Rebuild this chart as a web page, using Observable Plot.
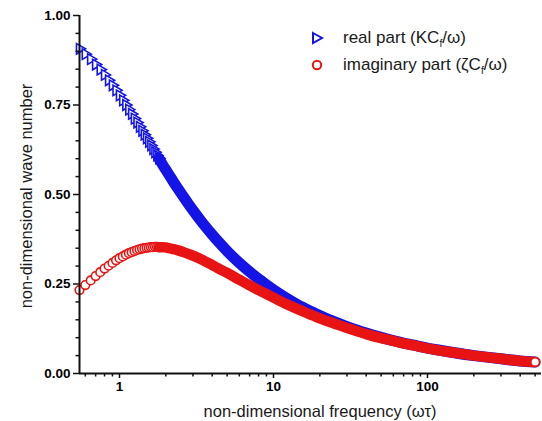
<!DOCTYPE html>
<html><head><meta charset="utf-8">
<script src="https://cdn.jsdelivr.net/npm/d3@7"></script>
<script src="https://cdn.jsdelivr.net/npm/@observablehq/plot@0.6"></script>
<style>
body{margin:0;background:#fff;font-family:"Liberation Sans",Arial,sans-serif;}
#wrap{position:relative;width:542px;height:421px;overflow:hidden;background:#fff;}
#wrap > svg{position:absolute;left:0;top:0;}
.ytitle{position:absolute;left:26px;top:196px;transform:translate(-50%,-50%) rotate(-90deg);white-space:nowrap;font-size:16.5px;color:#1a1a1a;}
.xtitle{position:absolute;left:320px;top:411px;transform:translate(-50%,-50%);white-space:nowrap;font-size:16.5px;color:#1a1a1a;}
.legend{position:absolute;left:307px;top:24px;font-size:17px;color:#1a1a1a;}
.legend .row{display:flex;align-items:center;height:27px;white-space:nowrap;}
.legend .row svg{width:20px;height:20px;margin-right:16px;flex:none;}
sub{font-size:0.6em;vertical-align:-0.35em;line-height:0;}
</style></head><body>
<div id="wrap">
  <div class="ytitle">non-dimensional wave number</div>
  <div class="xtitle">non-dimensional frequency (ωτ)</div>
  <div class="legend">
    <div class="row"><svg viewBox="-10 -10 20 20"><path d="M-4,-5 L5,0 L-4,5 Z" fill="white" stroke="#1414e6" stroke-width="2"/></svg><span>real part (KC<sub>f</sub>/ω)</span></div>
    <div class="row"><svg viewBox="-10 -10 20 20"><circle r="4.2" fill="white" stroke="#e81414" stroke-width="2"/></svg><span>imaginary part (ζC<sub>f</sub>/ω)</span></div>
  </div>
</div>
<script>
// ---- data ----
const freq = [0.55,0.6,0.65,0.7,0.75,0.8,0.85,0.9,0.95,1.0,1.05,1.1,1.15,1.2,1.25,1.3,1.35,1.4,1.45,1.5,1.55,1.6,1.65,1.7,1.75,1.8,
  1.9,2.0,2.2,2.4,2.6,2.8,3.0,3.5,4,4.5,5,6,7,8,9,10,12,14,16,18,20,25,30,35,40,50,60,70,80,100,120,150,200,250,300,400,500];
const realPart = [0.907,0.892,0.878,0.863,0.849,0.834,0.819,0.805,0.791,0.777,0.763,0.750,0.737,0.725,0.712,0.701,0.689,0.678,0.667,0.657,0.647,0.637,0.627,0.618,0.609,0.601,
  0.584,0.569,0.541,0.516,0.494,0.474,0.456,0.418,0.388,0.363,0.342,0.309,0.284,0.264,0.248,0.234,0.212,0.195,0.182,0.171,0.162,0.144,0.131,0.121,0.113,0.101,0.092,0.085,0.080,0.071,0.065,0.058,0.050,0.045,0.041,0.035,0.032];
const imagPart = [0.233,0.247,0.260,0.272,0.283,0.293,0.301,0.309,0.316,0.322,0.327,0.332,0.336,0.339,0.342,0.345,0.347,0.349,0.350,0.351,0.352,0.353,0.353,0.354,0.354,0.353,
  0.353,0.352,0.348,0.344,0.339,0.334,0.329,0.316,0.303,0.291,0.281,0.262,0.246,0.233,0.222,0.212,0.195,0.182,0.171,0.162,0.154,0.139,0.127,0.118,0.110,0.099,0.091,0.084,0.079,0.070,0.064,0.058,0.050,0.045,0.041,0.035,0.032];
const yTicks = [0, 0.25, 0.5, 0.75, 1.0];
const yTickLabels = ["0.00","0.25","0.50","0.75","1.00"];
const yMinor = [0.05,0.10,0.15,0.20,0.30,0.35,0.40,0.45,0.55,0.60,0.65,0.70,0.80,0.85,0.90,0.95];
const xTicks = [1, 10, 100];
const xTickLabels = ["1","10","100"];
const xMinor = [0.6,0.7,0.8,0.9,2,3,4,5,6,7,8,9,20,30,40,50,60,70,80,90,200,300,400,500];
const xDomain = [0.55, 550];
const yDomain = [0, 1];

const BLUE = "#1414e6", RED = "#e81414", INK = "#111";
const rows = freq.map((x, i) => ({x, re: realPart[i], im: imagPart[i]}));
const sparse = rows.filter(d => d.x <= 1.8);
const band = rows.filter(d => d.x >= 1.8);
const lastPt = rows.slice(-1);

// right-pointing triangle symbol
const triRight = {
  draw(ctx, size) {
    const a = Math.sqrt(4 * size / Math.sqrt(3));
    const h = Math.sqrt(3) / 2 * a;
    ctx.moveTo(2 * h / 3, 0);
    ctx.lineTo(-h / 3, a / 2);
    ctx.lineTo(-h / 3, -a / 2);
    ctx.closePath();
  }
};

const plot = Plot.plot({
  width: 542, height: 421,
  marginLeft: 79, marginRight: 1, marginTop: 15, marginBottom: 48,
  style: {fontFamily: "'Liberation Sans', Arial, sans-serif", background: "transparent", color: "#000"},
  x: {type: "log", domain: xDomain},
  y: {domain: yDomain},
  marks: [
    Plot.dot(sparse, {x: "x", y: "re", symbol: triRight, r: 3.9, fill: "white", stroke: BLUE, strokeWidth: 1.6}),
    Plot.line(band, {x: "x", y: "re", stroke: BLUE, strokeWidth: 11, curve: "monotone-x"}),
    Plot.dot(sparse, {x: "x", y: "im", symbol: "circle", r: 4.3, fill: "white", stroke: RED, strokeWidth: 1.6}),
    Plot.line(band, {x: "x", y: "im", stroke: RED, strokeWidth: 10.5, curve: "monotone-x"}),
    Plot.dot(lastPt, {x: "x", y: "im", symbol: "circle", r: 4.3, fill: "white", stroke: RED, strokeWidth: 1.6}),
    Plot.axisY(yMinor, {tickSize: 3.5, tickFormat: () => "", label: null, stroke: INK, strokeWidth: 1.5}),
    Plot.axisY(yTicks, {tickSize: 6, tickPadding: 3, tickFormat: d => yTickLabels[yTicks.indexOf(d)], fontSize: 13.5, fontWeight: "bold", label: null, stroke: INK, strokeWidth: 1.5}),
    Plot.axisX(xMinor, {tickSize: 3.5, tickFormat: () => "", label: null, stroke: INK, strokeWidth: 1.5}),
    Plot.axisX(xTicks, {tickSize: 5, tickPadding: 3, tickFormat: d => xTickLabels[xTicks.indexOf(d)], fontSize: 13.5, fontWeight: "bold", label: null, stroke: INK, strokeWidth: 1.5}),
    Plot.ruleX([xDomain[0]], {stroke: INK, strokeWidth: 2}),
    Plot.ruleY([yDomain[0]], {stroke: INK, strokeWidth: 2})
  ]
});
document.getElementById("wrap").prepend(plot);
</script>
</body></html>
